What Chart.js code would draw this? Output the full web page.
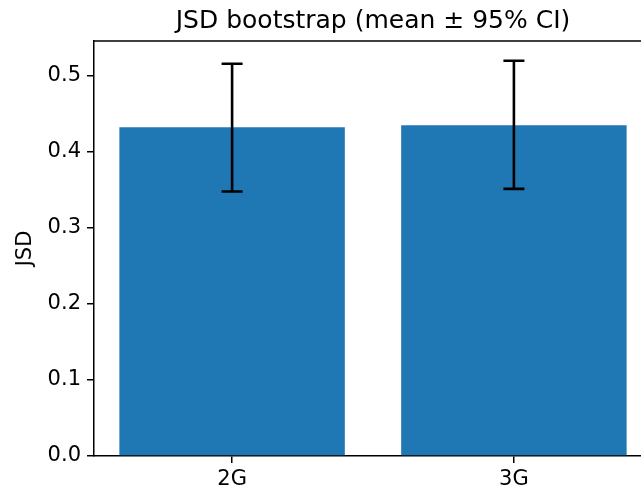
<!DOCTYPE html>
<html>
<head>
<meta charset="utf-8">
<script src="https://cdn.jsdelivr.net/npm/chart.js@4"></script>
<style>
  html, body { margin: 0; padding: 0; overflow: hidden; background: #fff; width: 641px; height: 490px; }
  canvas { display: block; }
</style>
</head>
<body>
<canvas id="c" width="700" height="490"></canvas>
<script>
const categories = ["2G", "3G"];
const means = [0.4325, 0.435];
const ciLower = [0.348, 0.3515];
const ciUpper = [0.516, 0.520];
const yTicks = [0.0, 0.1, 0.2, 0.3, 0.4, 0.5];
const yMax = 0.546;
const titleText = "JSD bootstrap (mean \u00b1 95% CI)";
const yLabel = "JSD";

const FONT = "'DejaVu Sans', sans-serif";

const errorBarPlugin = {
  id: 'errorBars',
  afterDatasetsDraw(chart) {
    const ctx = chart.ctx;
    const xs = chart.scales.x, ys = chart.scales.y;
    ctx.save();
    ctx.strokeStyle = '#000';
    ctx.lineWidth = 2.6;
    ctx.lineCap = 'butt';
    const half = 10.5;
    for (let i = 0; i < categories.length; i++) {
      const x = xs.getPixelForValue(i);
      const yl = ys.getPixelForValue(ciLower[i]);
      const yh = ys.getPixelForValue(ciUpper[i]);
      ctx.beginPath();
      ctx.moveTo(x, yl); ctx.lineTo(x, yh);
      ctx.moveTo(x - half, yl); ctx.lineTo(x + half, yl);
      ctx.moveTo(x - half, yh); ctx.lineTo(x + half, yh);
      ctx.stroke();
    }
    // top and right spines
    const a = chart.chartArea;
    ctx.lineWidth = 1.5;
    ctx.beginPath();
    ctx.moveTo(a.left - 0.75, a.top);
    ctx.lineTo(a.right + 0.75, a.top);
    ctx.moveTo(a.right, a.top);
    ctx.lineTo(a.right, a.bottom);
    ctx.stroke();
    // axes title centred over the plot area
    ctx.fillStyle = '#000';
    ctx.font = "25px " + FONT;
    ctx.textAlign = 'center';
    ctx.textBaseline = 'middle';
    ctx.fillText(titleText, (a.left + a.right) / 2, 21);
    ctx.restore();
  }
};

new Chart(document.getElementById('c'), {
  type: 'bar',
  data: {
    datasets: [{
      data: categories.map((c, i) => ({ x: i, y: means[i] })),
      backgroundColor: '#1f77b4',
      borderWidth: 0,
      categoryPercentage: 1.0,
      barPercentage: 0.8
    }]
  },
  options: {
    responsive: false,
    animation: false,
    layout: { padding: { left: 0, right: 48, top: 41, bottom: 0 } },
    plugins: {
      legend: { display: false },
      tooltip: { enabled: false },
      title: { display: false }
    },
    scales: {
      x: {
        type: 'linear',
        offset: false,
        min: -0.49,
        max: 1.49,
        afterBuildTicks(scale) { scale.ticks = categories.map((c, i) => ({ value: i })); },
        afterFit(scale) { scale.height = 34; },
        ticks: {
          callback: (v) => categories[v] ?? '',
          color: '#000',
          font: { family: FONT, size: 21 },
          padding: 4,
          maxRotation: 0
        },
        grid: { offset: false, drawOnChartArea: false, drawTicks: true, tickLength: 7, color: '#000', lineWidth: 1.5 },
        border: { display: true, color: '#000', width: 1.5 }
      },
      y: {
        type: 'linear',
        min: 0,
        max: yMax,
        afterBuildTicks(scale) { scale.ticks = yTicks.map(v => ({ value: v })); },
        afterFit(scale) { scale.width = 94; },
        ticks: {
          callback: (v) => Number(v).toFixed(1),
          color: '#000',
          font: { family: FONT, size: 21 },
          padding: 6
        },
        grid: { drawOnChartArea: false, drawTicks: true, tickLength: 7, color: '#000', lineWidth: 1.5 },
        border: { display: true, color: '#000', width: 1.5 },
        title: {
          display: true,
          text: yLabel,
          color: '#000',
          font: { family: FONT, size: 21 },
          padding: { top: 13, bottom: 0 }
        }
      }
    }
  },
  plugins: [errorBarPlugin]
});
</script>
</body>
</html>
